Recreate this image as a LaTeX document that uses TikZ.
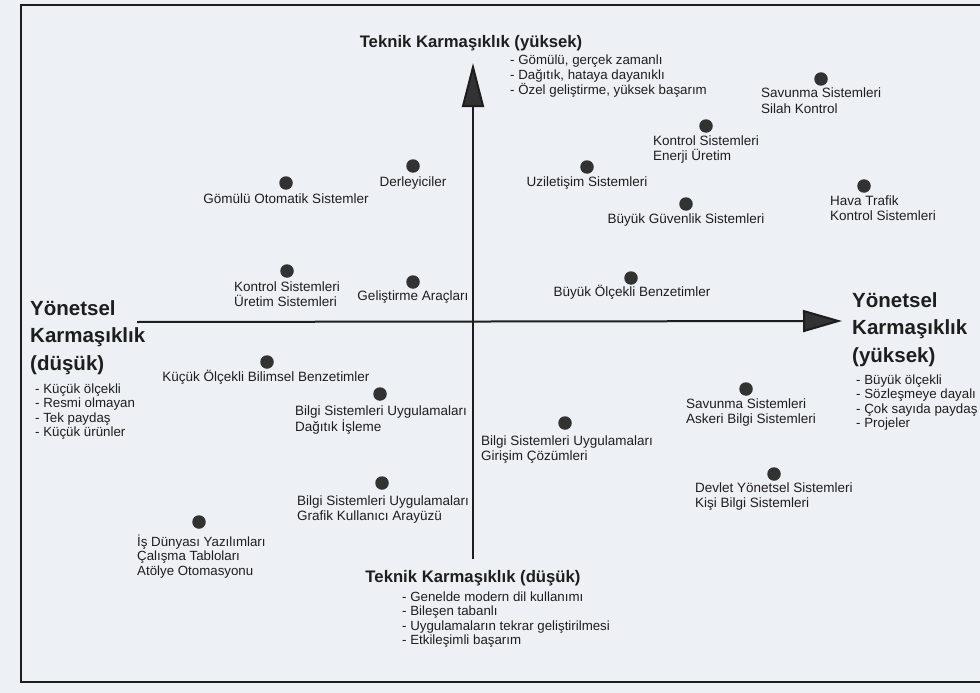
\documentclass[tikz,border=0pt]{standalone}
\usepackage{fontspec}
\setmainfont{Liberation Sans}
\usetikzlibrary{arrows.meta}

\definecolor{paper}{RGB}{237,240,244}
\definecolor{ink}{RGB}{30,30,30}
\definecolor{dotc}{RGB}{50,50,50}

% multi-line blocks whose baseline is the baseline of their first line
\newcommand\rowsL[1]{\begin{tabular}[t]{@{}l@{}}#1\end{tabular}}

\tikzset{
  sysdot/.style={circle, fill=dotc, draw=none, inner sep=0pt, minimum size=13.5pt},
  lbl/.style={inner sep=0pt, text=ink, font=\fontsize{13.5}{15.5}\selectfont},
  bul/.style={inner sep=0pt, text=ink, font=\fontsize{13.3}{14.5}\selectfont},
  axtitle/.style={inner sep=0pt, text=ink, font=\bfseries\fontsize{16.7}{20}\selectfont},
  sidetitle/.style={inner sep=0pt, text=ink, font=\bfseries\fontsize{20.5}{27.5}\selectfont},
  axisline/.style={line width=2pt, draw=ink},
  frameline/.style={line width=1.6pt, draw=ink},
}

\begin{document}
\begin{tikzpicture}[x=1pt, y=-1pt]
\useasboundingbox (0,0) rectangle (980,693);
\fill[paper] (0,0) rectangle (980,693);

% page frame (open on the right)
\draw[frameline] (980,5) -- (21,5) -- (21,682) -- (980,682);

% axes
\coordinate (vbot) at (473,559);
\coordinate (vtop) at (473,63);
\coordinate (hleft) at (137,322);
\coordinate (hright) at (842,321);
\draw[axisline, -{Triangle[length=44pt, width=22pt, fill=dotc]}] (vbot) -- (vtop);
\draw[axisline, -{Triangle[length=39pt, width=22pt, fill=dotc]}] (hleft) -- (hright);

% axis titles
\node[axtitle, anchor=base] (ttop) at (471,48) {Teknik Karmaşıklık (yüksek)};
\node[bul, anchor=base west] (btop) at (510,65)
  {\rowsL{- Gömülü, gerçek zamanlı\\- Dağıtık, hataya dayanıklı\\- Özel geliştirme, yüksek başarım}};

\node[axtitle, anchor=base] (tbot) at (473,582) {Teknik Karmaşıklık (düşük)};
\node[bul, anchor=base west] (bbot) at (402,601)
  {\rowsL{- Genelde modern dil kullanımı\\- Bileşen tabanlı\\- Uygulamaların tekrar geliştirilmesi\\- Etkileşimli başarım}};

\node[sidetitle, anchor=base west] (tleft) at (30,315)
  {\rowsL{Yönetsel\\Karmaşıklık\\(düşük)}};
\node[bul, anchor=base west] (bleft) at (35,393)
  {\rowsL{- Küçük ölçekli\\- Resmi olmayan\\- Tek paydaş\\- Küçük ürünler}};

\node[sidetitle, anchor=base west] (tright) at (852,307)
  {\rowsL{Yönetsel\\Karmaşıklık\\(yüksek)}};
\node[bul, anchor=base west] (bright) at (856,384)
  {\rowsL{- Büyük ölçekli\\- Sözleşmeye dayalı\\- Çok sayıda paydaş\\- Projeler}};

% systems: dots and their labels
\node[sysdot] (derl) at (413,166) {};
\node[lbl, anchor=base] (derlL) at (413,186) {Derleyiciler};

\node[sysdot] (gom) at (286,183) {};
\node[lbl, anchor=base] (gomL) at (286,203) {Gömülü Otomatik Sistemler};

\node[sysdot] (kur) at (287,271) {};
\node[lbl, anchor=base west] (kurL) at (234,291) {\rowsL{Kontrol Sistemleri\\Üretim Sistemleri}};

\node[sysdot] (gel) at (413,282) {};
\node[lbl, anchor=base] (gelL) at (413,300) {Geliştirme Araçları};

\node[sysdot] (sav) at (821,79) {};
\node[lbl, anchor=base west] (savL) at (761,98) {\rowsL{Savunma Sistemleri\\Silah Kontrol}};

\node[sysdot] (ene) at (706,126) {};
\node[lbl, anchor=base west] (eneL) at (653,145) {\rowsL{Kontrol Sistemleri\\Enerji Üretim}};

\node[sysdot] (uzi) at (587,167) {};
\node[lbl, anchor=base] (uziL) at (587,186) {Uziletişim Sistemleri};

\node[sysdot] (hav) at (864,186) {};
\node[lbl, anchor=base west] (havL) at (830,205) {\rowsL{Hava Trafik\\Kontrol Sistemleri}};

\node[sysdot] (guv) at (686,204) {};
\node[lbl, anchor=base] (guvL) at (686,223) {Büyük Güvenlik Sistemleri};

\node[sysdot] (ben) at (631,278) {};
\node[lbl, anchor=base] (benL) at (632,296) {Büyük Ölçekli Benzetimler};

\node[sysdot] (kuc) at (267,362) {};
\node[lbl, anchor=base] (kucL) at (266,381) {Küçük Ölçekli Bilimsel Benzetimler};

\node[sysdot] (dag) at (380,394) {};
\node[lbl, anchor=base west] (dagL) at (295,415) {\rowsL{Bilgi Sistemleri Uygulamaları\\Dağıtık İşleme}};

\node[sysdot] (gir) at (565,423) {};
\node[lbl, anchor=base west] (girL) at (481,445) {\rowsL{Bilgi Sistemleri Uygulamaları\\Girişim Çözümleri}};

\node[sysdot] (gra) at (382,483) {};
\node[lbl, anchor=base west] (graL) at (297,505) {\rowsL{Bilgi Sistemleri Uygulamaları\\Grafik Kullanıcı Arayüzü}};

\node[sysdot] (isd) at (199,522) {};
\node[bul, anchor=base west] (isdL) at (137,546) {\rowsL{İş Dünyası Yazılımları\\Çalışma Tabloları\\Atölye Otomasyonu}};

\node[sysdot] (ask) at (746,389) {};
\node[lbl, anchor=base west] (askL) at (686,408) {\rowsL{Savunma Sistemleri\\Askeri Bilgi Sistemleri}};

\node[sysdot] (dev) at (774,474) {};
\node[lbl, anchor=base west] (devL) at (695,492) {\rowsL{Devlet Yönetsel Sistemleri\\Kişi Bilgi Sistemleri}};

\end{tikzpicture}
\end{document}
